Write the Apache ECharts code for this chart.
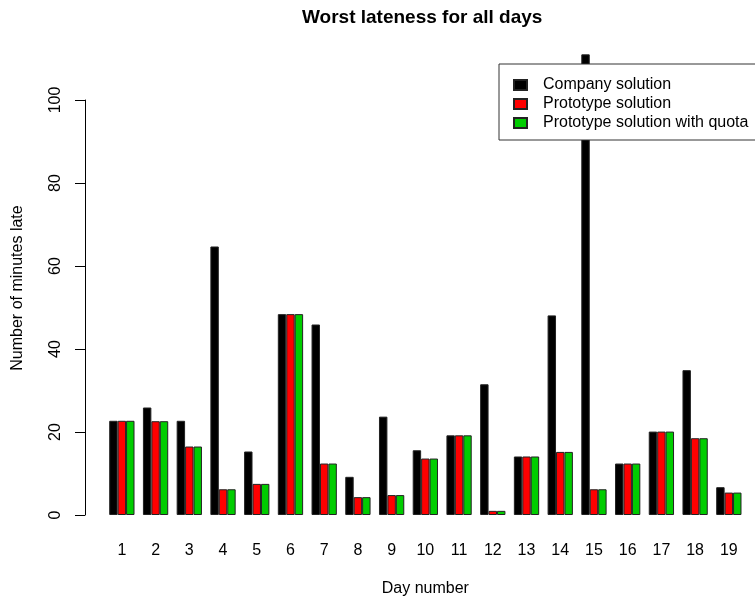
<!DOCTYPE html>
<html>
<head>
<meta charset="utf-8">
<script src="https://cdn.jsdelivr.net/npm/echarts@6/dist/echarts.min.js"></script>
<style>
  html, body { margin: 0; padding: 0; background: #fff; }
  #chart { width: 755px; height: 602px; }
</style>
</head>
<body>
<div id="chart"></div>
<script>
// data
const days = ["1", "2", "3", "4", "5", "6", "7", "8", "9", "10",
  "11", "12", "13", "14", "15", "16", "17", "18", "19"];
const company = [22.7, 25.9, 22.7, 64.7, 15.3, 48.4, 45.9, 9.2, 23.7, 15.6,
  19.2, 31.5, 14.1, 48.1, 111.0, 12.4, 20.1, 34.9, 6.7];
const prototype = [22.7, 22.6, 16.5, 6.2, 7.5, 48.4, 12.4, 4.3, 4.8, 13.6,
  19.2, 1.0, 14.1, 15.2, 6.2, 12.4, 20.1, 18.5, 5.4];
const prototypeQuota = [22.7, 22.6, 16.5, 6.2, 7.5, 48.4, 12.4, 4.3, 4.8, 13.6,
  19.2, 1.0, 14.1, 15.2, 6.2, 12.4, 20.1, 18.5, 5.4];
const yTicks = [0, 20, 40, 60, 80, 100];

const font = '"Liberation Sans", Arial, sans-serif';

const chart = echarts.init(document.getElementById("chart"));

const barStyle = (color) => ({
  color: color,
  borderColor: "#222",
  borderWidth: 1,
});

const options = {
  animation: false,
  textStyle: { fontFamily: font, color: "#000" },
  title: {
    text: "Worst lateness for all days",
    left: 302,
    top: 8,
    padding: 0,
    textStyle: { fontFamily: font, fontSize: 19, fontWeight: "bold", color: "#000" },
  },
  legend: {
    orient: "vertical",
    left: 499,
    top: 64,
    z: 10,
    backgroundColor: "#fff",
    padding: [13, 22, 9, 14],
    borderColor: "#333",
    borderWidth: 1,
    itemWidth: 13,
    itemHeight: 10,
    itemGap: 3,
    icon: "rect",
    textStyle: { fontFamily: font, fontSize: 16, color: "#000", lineHeight: 16, padding: [0, 0, 0, 11] },
    data: ["Company solution", "Prototype solution", "Prototype solution with quota"],
  },
  grid: {
    left: 105,
    right: 9.3,
    top: 100,
    bottom: 87,
  },
  xAxis: {
    type: "category",
    data: days,
    name: "Day number",
    nameLocation: "middle",
    nameGap: 66,
    nameTextStyle: { fontFamily: font, fontSize: 16, color: "#000" },
    axisLine: { show: false },
    axisTick: { show: false },
    axisLabel: { fontFamily: font, fontSize: 16, color: "#000", margin: 28 },
  },
  yAxis: {
    type: "value",
    min: yTicks[0],
    max: yTicks[yTicks.length - 1],
    interval: yTicks[1] - yTicks[0],
    offset: 20,
    axisLine: { show: true, lineStyle: { color: "#000", width: 1 } },
    axisTick: { show: true, length: 10, lineStyle: { color: "#000" } },
    axisLabel: { fontFamily: font, fontSize: 16, color: "#000", rotate: 90, margin: 21 },
    splitLine: { show: false },
  },
  graphic: [
    {
      type: "text",
      x: 18,
      y: 288,
      rotation: Math.PI / 2,
      style: {
        text: "Number of minutes late",
        font: "16px " + font,
        fill: "#000",
        align: "center",
        verticalAlign: "middle",
      },
    },
  ],
  series: [
    {
      name: "Company solution",
      type: "bar",
      data: company,
      barWidth: 8.43,
      barGap: "0%",
      clip: false,
      itemStyle: barStyle("#000"),
    },
    {
      name: "Prototype solution",
      type: "bar",
      data: prototype,
      barWidth: 8.43,
      barGap: "0%",
      itemStyle: barStyle("#ff0000"),
    },
    {
      name: "Prototype solution with quota",
      type: "bar",
      data: prototypeQuota,
      barWidth: 8.43,
      barGap: "0%",
      itemStyle: barStyle("#00cd00"),
    },
  ],
};

chart.setOption(options);
</script>
</body>
</html>
